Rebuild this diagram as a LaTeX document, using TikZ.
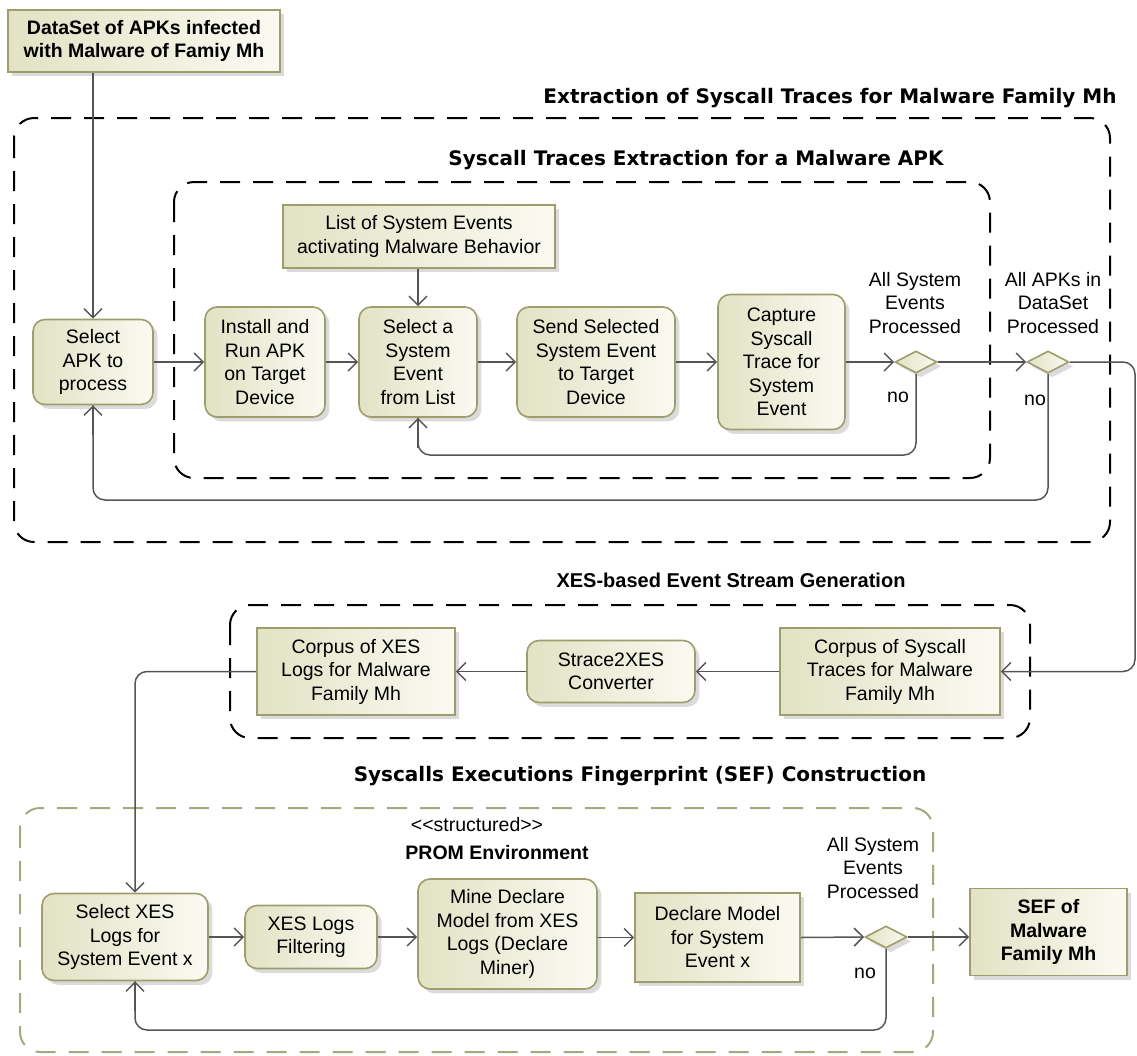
\documentclass[tikz,border=0pt]{standalone}
\usepackage{fontspec}
\setmainfont{Liberation Sans}
\newfontfamily\titlefont{DejaVu Sans}
\usetikzlibrary{arrows.meta,shadows,shapes.geometric,calc}

\definecolor{boxline}{RGB}{158,158,108}
\definecolor{boxleft}{RGB}{226,226,196}
\definecolor{boxright}{RGB}{250,250,242}
\definecolor{flow}{RGB}{85,85,85}
\definecolor{olivedash}{RGB}{168,168,128}

\newcommand\boxfont{\fontsize{9.75}{11.75}\selectfont}
\newcommand\headfont{\titlefont\bfseries\fontsize{10}{12}\selectfont}

\tikzset{
  base/.style={draw=boxline, line width=0.8pt, left color=boxleft, right color=boxright,
    drop shadow={shadow xshift=2.2pt, shadow yshift=-2.2pt, fill=black!28},
    inner sep=0pt, align=center, font=\boxfont, text=black},
  act/.style={base, rounded corners=6pt},
  obj/.style={base},
  dec/.style={base, diamond, minimum width=21pt, minimum height=11pt},
  flowline/.style={draw=flow, line width=0.75pt},
  arr/.style={flowline, -{Straight Barb[length=4.5pt,width=9pt]}},
  region/.style={draw=black, line width=1pt, dash pattern=on 10pt off 6.5pt, rounded corners=10pt},
  lbl/.style={font=\boxfont, align=center, inner sep=0pt},
  head/.style={font=\headfont, inner sep=0pt}
}

\begin{document}
\begin{tikzpicture}[x=0.5pt, y=-0.5pt]
\useasboundingbox (0,0) rectangle (1137,1056);

% region frames and their titles
\draw[region] (14,118) rectangle (1110,542);
\draw[region] (174,182) rectangle (990,478);
\draw[region] (230,605) rectangle (1030,738);
\draw[region, draw=olivedash] (20,808) rectangle (933,1052);

\node[head] (t1) at (830,98) {Extraction of Syscall Traces for Malware Family Mh};
\node[head] (t2) at (696,160) {Syscall Traces Extraction for a Malware APK};
\node[font=\bfseries\fontsize{10}{12}\selectfont, inner sep=0pt] (t3) at (731,580) {XES-based Event Stream Generation};
\node[head] (t4) at (640,776) {Syscalls Executions Fingerprint (SEF) Construction};
\node[lbl] (stereo) at (477,825) {<{}<structured>{}>};
\node[lbl, font=\boxfont\bfseries] (prom) at (497,853) {PROM Environment};

% extraction of syscall traces
\node[obj, minimum width=136pt, minimum height=31pt, font=\boxfont\bfseries] (data) at (144,41)
  {DataSet of APKs infected\\with Malware of Famiy Mh};
\node[act, minimum width=60pt, minimum height=42.5pt] (selapk) at (93,362) {Select\\APK to\\process};
\node[act, minimum width=60pt, minimum height=55pt] (install) at (265,362) {Install and\\Run APK\\on Target\\Device};
\node[obj, minimum width=136pt, minimum height=31.5pt] (list) at (419,236.5) {List of System Events\\activating Malware Behavior};
\node[act, minimum width=59pt, minimum height=55pt] (selev) at (418,362) {Select a\\System\\Event\\from List};
\node[act, minimum width=79pt, minimum height=55pt] (send) at (596,362) {Send Selected\\System Event\\to Target\\Device};
\node[act, minimum width=63.5pt, minimum height=67.5pt] (capture) at (781.5,362) {Capture\\Syscall\\Trace for\\System\\Event};
\node[dec] (dia1) at (916,362) {};
\node[dec] (dia2) at (1048,362) {};
\node[lbl] (q1) at (915,303) {All System\\Events\\Processed};
\node[lbl] (no1) at (898,397) {no};
\node[lbl] (q2) at (1053,303) {All APKs in\\DataSet\\Processed};
\node[lbl] (no2) at (1035,400) {no};

% event stream generation
\node[obj, minimum width=110pt, minimum height=43.5pt] (corpussys) at (890,671.5) {Corpus of Syscall\\Traces for Malware\\Family Mh};
\node[act, minimum width=84pt, minimum height=31pt] (strace) at (611,671.5) {Strace2XES\\Converter};
\node[obj, minimum width=99pt, minimum height=43.5pt] (corpusxes) at (356,671.5) {Corpus of XES\\Logs for Malware\\Family Mh};

% fingerprint construction
\node[act, minimum width=83pt, minimum height=43.5pt] (selxes) at (125,937) {Select XES\\Logs for\\System Event x};
\node[act, minimum width=66pt, minimum height=31.5pt] (filter) at (311,937) {XES Logs\\Filtering};
\node[act, minimum width=89.5pt, minimum height=55pt] (mine) at (507.5,934) {Mine Declare\\Model from XES\\Logs (Declare\\Miner)};
\node[obj, minimum width=82.5pt, minimum height=44.5pt] (declare) at (717.5,937.5) {Declare Model\\for System\\Event x};
\node[dec] (dia3) at (886,937) {};
\node[lbl] (q3) at (873,868) {All System\\Events\\Processed};
\node[lbl] (no3) at (865,973) {no};
\node[obj, minimum width=78.5pt, minimum height=43.5pt, font=\boxfont\bfseries] (sef) at (1048.5,932) {SEF of\\Malware\\Family Mh};

% turning points of the connectors
\coordinate (rturn) at (1135,362);
\coordinate (loop1) at (0,455);
\coordinate (loop2) at (0,500);
\coordinate (loop3) at (0,1030);
\coordinate (xesin) at ($(selxes.north)+(10,0)$);
\coordinate (xesback) at ($(selxes.south)+(10,0)$);

% connectors
\draw[arr] (data.south -| selapk.north) -- (selapk.north);
\draw[arr] (selapk.east) -- (install.west);
\draw[arr] (install.east) -- (selev.west);
\draw[arr] (list.south -| selev.north) -- (selev.north);
\draw[arr] (selev.east) -- (send.west);
\draw[arr] (send.east) -- (capture.west);
\draw[arr] (capture.east) -- (dia1.west);
\draw[arr] (dia1.east) -- (dia2.west);
\draw[flowline, rounded corners=6pt] (dia1.south) -- (dia1.south |- loop1) -| (selev.south);
\draw[arr] ($(selev.south)+(0,30)$) -- (selev.south);
\draw[flowline, rounded corners=6pt] (dia2.south) -- (dia2.south |- loop2) -| (selapk.south);
\draw[arr] ($(selapk.south)+(0,30)$) -- (selapk.south);
\draw[arr, rounded corners=6pt] (dia2.east) -- (rturn) |- (corpussys.east);
\draw[arr] (corpussys.west) -- (strace.east);
\draw[arr] (strace.west) -- (corpusxes.east);
\draw[arr, rounded corners=6pt] (corpusxes.west) -| (xesin);
\draw[arr] (selxes.east) -- (filter.west);
\draw[arr] (filter.east) -- (filter.east -| mine.west);
\draw[arr] (mine.east |- declare.west) -- (declare.west);
\draw[arr] (declare.east) -- (dia3.west);
\draw[arr] (dia3.east) -- (dia3.east -| sef.west);
\draw[flowline, rounded corners=6pt] (dia3.south) -- (dia3.south |- loop3) -| (xesback);
\draw[arr] ($(xesback)+(0,30)$) -- (xesback);
\end{tikzpicture}
\end{document}
